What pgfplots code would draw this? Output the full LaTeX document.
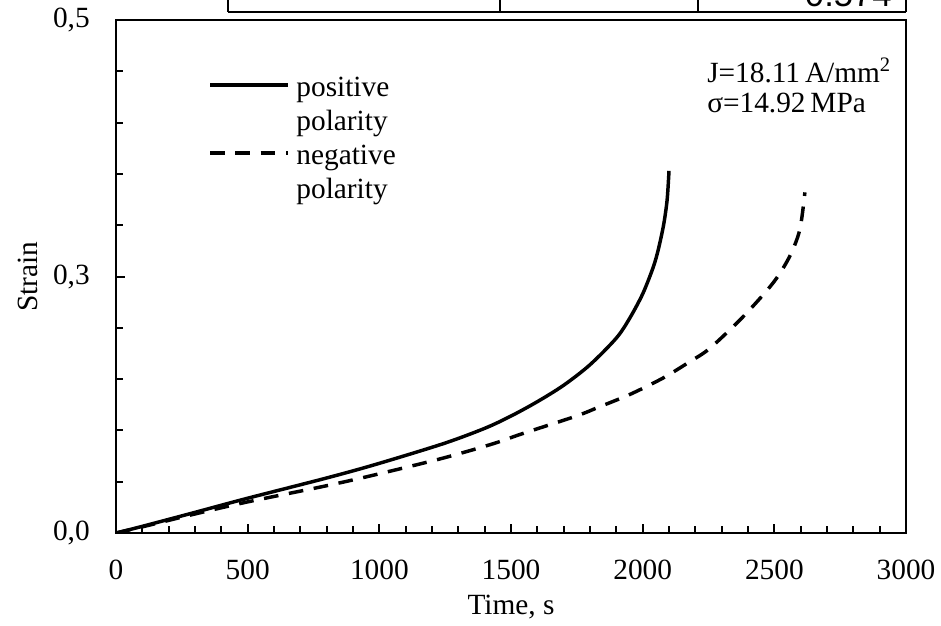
\documentclass[border=0pt]{standalone}
\usepackage{fontspec}
\setmainfont{Liberation Serif}
\newfontfamily\sansf{Liberation Sans}
\usepackage{pgfplots}
\pgfplotsset{compat=1.18}
\begin{document}
\begin{tikzpicture}
\begin{axis}[
  at={(0pt,0pt)}, anchor=south west,
  scale only axis, width=592.5pt, height=384.75pt,
  xmin=0, xmax=3000, ymin=0, ymax=0.5,
  xtick={0,500,...,3000}, minor x tick num=4,
  ytick={0,0.25,0.5}, yticklabels={{0,0},{0,3},{0,5}}, minor y tick num=4,
  xtick pos=bottom, ytick pos=left, tick align=inside,
  major tick length=7pt, minor tick length=5.5pt,
  tick style={line width=1.5pt, black},
  axis line style={line width=2.1pt},
  /pgf/number format/assume math mode=true,
  /pgf/number format/1000 sep={},
  tick label style={font=\fontsize{22}{26}\selectfont, inner sep=0pt},
  xticklabel style={yshift=-20.3pt},
  yticklabel style={xshift=-19.5pt},
  xlabel={Time, s}, ylabel={Strain},
  label style={font=\fontsize{22}{26}\selectfont, inner sep=0pt},
  xlabel style={at={([yshift=-55.5pt]axis description cs:0.5,0)}, anchor=center},
  ylabel style={at={([xshift=-66pt]axis description cs:0,0.5)}, anchor=center},
  legend style={at={(axis description cs:0.1165,0.8923)}, anchor=north west,
    draw=none, fill=none, inner sep=0pt, row sep=4.5pt, column sep=5pt,
    font=\fontsize{22}{24.75}\selectfont,
    nodes={inner sep=0pt, text height=16pt, text depth=5pt}},
  legend cell align=left,
  legend image code/.code={\draw[#1] (0pt,0.35em) -- (58.5pt,0.35em);},
]
\addplot[black, line width=2.6pt, line join=round, smooth, tension=0.5] coordinates {
(0,0) (100,0.0065) (291,0.0195) (494,0.0335) (798,0.0535) (988,0.067)
(1242,0.087) (1400,0.102) (1500,0.114) (1600,0.128) (1700,0.144)
(1800,0.164) (1900,0.190) (1950,0.209) (2000,0.233) (2040,0.259)
(2060,0.277) (2080,0.301) (2093,0.325) (2100,0.353)};
\addlegendentry{positive}
\addlegendimage{empty legend}
\addlegendentry{polarity}
\addplot[black, line width=2.6pt, dash pattern=on 11pt off 8pt, smooth, tension=0.5] coordinates {
(0,0) (100,0.006) (291,0.018) (494,0.030) (798,0.046) (988,0.057)
(1242,0.073) (1432,0.087) (1545,0.097) (1748,0.114) (1836,0.123)
(1951,0.135) (2077,0.151) (2179,0.167) (2255,0.180) (2382,0.211)
(2496,0.244) (2559,0.270) (2597,0.296) (2616,0.332)};
\addlegendentry{negative}
\addlegendimage{empty legend}
\addlegendentry{polarity}
\node[anchor=base west, inner sep=0pt, font=\fontsize{22}{22.5}\selectfont]
  at (axis description cs:0.7481,0.8791)
  {\begin{tabular}[t]{@{}l@{}}J=18.11\,A/mm\textsuperscript{2}\\σ=14.92\,MPa\end{tabular}};
\end{axis}
% fragment of a table above the chart
\draw[line width=1.6pt] (84pt,390.75pt) -- (592.5pt,390.75pt);
\foreach \xx in {84,288,436.5,592.5} \draw[line width=1.6pt] (\xx pt,390.75pt) -- (\xx pt,410pt);
\node[anchor=base east, inner sep=0pt, font=\sansf\fontsize{26}{30}\selectfont] at (582pt,394.5pt) {0.574};
\pgfresetboundingbox
\path[use as bounding box] (-87pt,-69pt) rectangle (618.75pt,399.75pt);
\end{tikzpicture}
\end{document}
